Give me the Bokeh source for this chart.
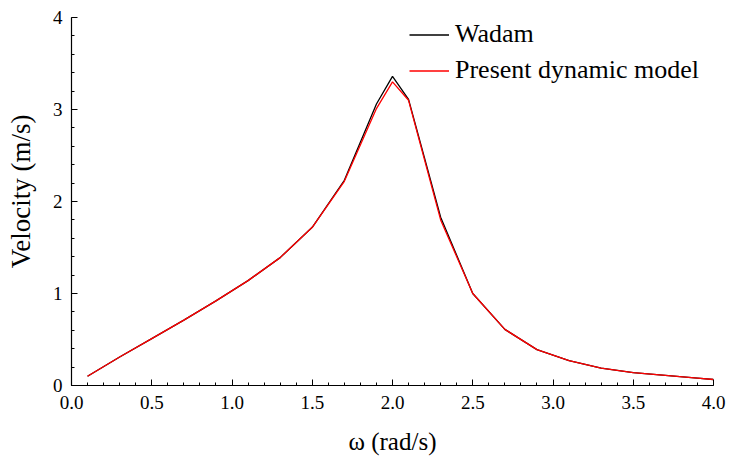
from bokeh.plotting import figure
from bokeh.models import Legend, LegendItem, FixedTicker, Range1d, NumeralTickFormatter
from bokeh.embed import file_html
from bokeh.resources import INLINE

# Data
omega = [0.1, 0.3, 0.5, 0.7, 0.9, 1.1, 1.3, 1.5, 1.7, 1.9, 2.0, 2.1, 2.3, 2.5, 2.7, 2.9, 3.1, 3.3, 3.5, 3.7, 3.9, 4.0]
wadam = [0.10, 0.31, 0.51, 0.71, 0.92, 1.14, 1.39, 1.72, 2.23, 3.06, 3.36, 3.11, 1.83, 1.00, 0.61, 0.39, 0.27, 0.19, 0.14, 0.11, 0.08, 0.065]
present = [0.10, 0.31, 0.51, 0.71, 0.92, 1.14, 1.39, 1.72, 2.22, 3.01, 3.30, 3.10, 1.80, 1.00, 0.61, 0.39, 0.27, 0.19, 0.14, 0.11, 0.08, 0.065]
x_ticks = [0.0, 0.5, 1.0, 1.5, 2.0, 2.5, 3.0, 3.5, 4.0]
y_ticks = [0, 1, 2, 3, 4]

FONT = "Liberation Serif"

p = figure(width=729, height=457, output_backend="svg", toolbar_location=None,
           x_range=Range1d(0, 4), y_range=Range1d(0, 4),
           min_border_left=71, min_border_right=16, min_border_top=17, min_border_bottom=71)
p.outline_line_color = None
p.xgrid.visible = False
p.ygrid.visible = False
p.background_fill_color = "white"
p.border_fill_color = "white"

l1 = p.line(omega, wadam, line_color="black", line_width=1.3)
l2 = p.line(omega, present, line_color="#ff0000", line_width=1.3)

for ax in (p.xaxis[0], p.yaxis[0]):
    ax.axis_line_color = "black"
    ax.axis_line_width = 1.2
    ax.major_tick_in = 6
    ax.major_tick_out = 0
    ax.minor_tick_in = 3
    ax.minor_tick_out = 0
    ax.major_tick_line_color = "black"
    ax.minor_tick_line_color = "black"
    ax.major_label_text_font = FONT
    ax.major_label_text_font_size = "19px"
    ax.major_label_text_color = "black"
    ax.axis_label_text_font = FONT
    ax.axis_label_text_font_size = "25px"
    ax.axis_label_text_font_style = "normal"
    ax.axis_label_text_color = "black"

p.yaxis[0].axis_label_text_font_size = "27px"

p.xaxis[0].ticker = FixedTicker(ticks=x_ticks, minor_ticks=[i / 10 for i in range(0, 41)])
p.yaxis[0].ticker = FixedTicker(ticks=y_ticks, minor_ticks=[i / 5 for i in range(0, 21)])
p.xaxis[0].formatter = NumeralTickFormatter(format="0.0")
p.yaxis[0].formatter = NumeralTickFormatter(format="0")
p.xaxis[0].major_label_standoff = 10
p.yaxis[0].major_label_standoff = 9
p.xaxis[0].axis_label = "ω (rad/s)"
p.yaxis[0].axis_label = "\u00a0\u00a0\u00a0Velocity (m/s)"
p.xaxis[0].axis_label_standoff = 16
p.yaxis[0].axis_label_standoff = 14

legend = Legend(items=[LegendItem(label="Wadam", renderers=[l1]),
                       LegendItem(label="Present dynamic model", renderers=[l2])],
                location=(338, 300), orientation="vertical")
legend.label_text_font = FONT
legend.label_text_font_size = "26px"
legend.label_text_color = "black"
legend.glyph_width = 40
legend.glyph_height = 29
legend.label_height = 29
legend.label_standoff = 6
legend.spacing = 6
legend.padding = 0
legend.margin = 0
legend.border_line_color = None
legend.background_fill_alpha = 0
p.add_layout(legend)

open("out.html", "w").write(file_html(p, INLINE))
